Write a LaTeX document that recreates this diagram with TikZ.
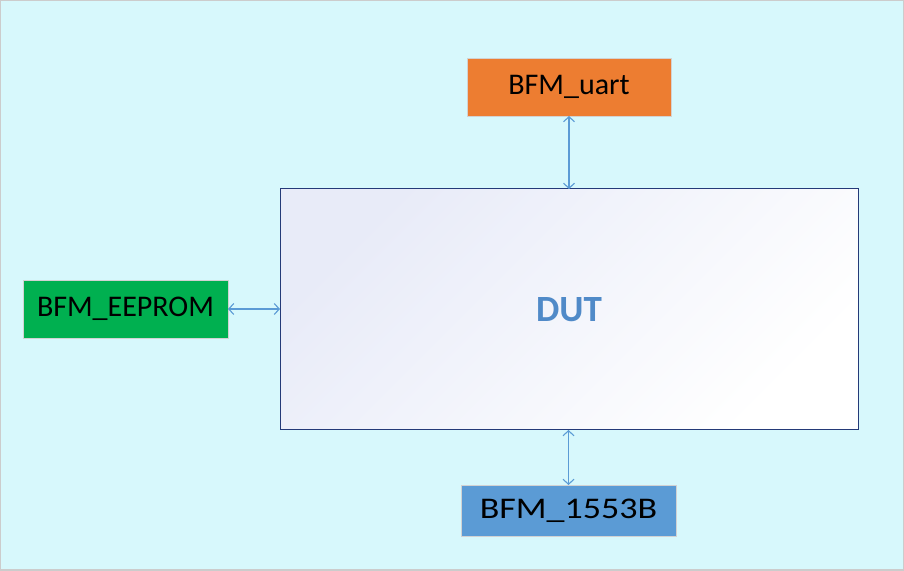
\documentclass[tikz,border=0pt]{standalone}
\usepackage{fontspec}
\setmainfont{Carlito}
\usepackage{tikz}
\usetikzlibrary{arrows.meta}
\definecolor{bgcyan}{RGB}{215,248,252}
\definecolor{uartorange}{RGB}{237,125,49}
\definecolor{eepgreen}{RGB}{0,176,80}
\definecolor{busblue}{RGB}{91,155,213}
\definecolor{dutnavy}{RGB}{36,58,120}
\definecolor{dutlav}{RGB}{232,235,248}
\definecolor{duttext}{RGB}{80,138,200}
\tikzset{
	bfm/.style={draw=gray!35,line width=0.6pt,inner sep=0pt,outer sep=0pt,font=\fontsize{30}{32}\selectfont},
	link/.style={busblue,line width=1.1pt,{Straight Barb[length=5pt,width=11pt]}-{Straight Barb[length=5pt,width=11pt]}}
}
\begin{document}
\begin{tikzpicture}[x=1pt,y=1pt]
		\useasboundingbox (0,0) rectangle (904,570);
		\draw[fill=bgcyan,draw=gray!40,line width=1.5pt] (0,0) rectangle (904,570);
		\node[draw=dutnavy,line width=1pt,top color=dutlav,bottom color=white,shading angle=45,minimum width=578pt,minimum height=241pt,inner sep=0pt,outer sep=0pt] (dut) at (569,260.5) {\fontsize{37}{40}\selectfont\bfseries\color{duttext}DUT};
		\node[bfm,fill=uartorange,minimum width=204pt,minimum height=58pt] (uart) at (569,483) {BFM\_uart};
		\node[bfm,fill=eepgreen,minimum width=205pt,minimum height=58pt] (eeprom) at (125.5,261) {BFM\_EEPROM};
		\node[bfm,fill=busblue,minimum width=215pt,minimum height=51pt] (bus) at (568.5,59.5) {\scalebox{1.2}[1]{BFM\_1553B}};
		\draw[link] (uart.south) -- (uart.south |- dut.north);
		\draw[link] (eeprom.east) -- (eeprom.east -| dut.west);
		\draw[link] (bus.north) -- (bus.north |- dut.south);
\end{tikzpicture}
\end{document}
